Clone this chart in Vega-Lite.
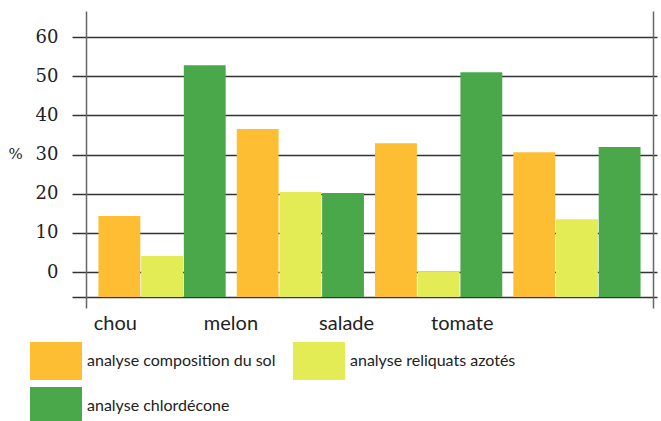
{
  "$schema": "https://vega.github.io/schema/vega-lite/v6.json",
  "width": 567,
  "height": 297,
  "autosize": {"type": "none"},
  "padding": {"left": 86, "top": 11, "right": 8, "bottom": 113},
  "background": "white",
  "config": {"view": {"stroke": null}, "font": "DejaVu Serif", "axis": {"labelFont": "DejaVu Serif", "titleFont": "DejaVu Serif"}},
  "layer": [
    {
      "data": {
        "values": [
          {"culture": "chou", "analyse": "analyse composition du sol", "pct": 14.3},
          {"culture": "chou", "analyse": "analyse reliquats azotés", "pct": 4.1},
          {"culture": "chou", "analyse": "analyse chlordécone", "pct": 52.8},
          {"culture": "melon", "analyse": "analyse composition du sol", "pct": 36.5},
          {"culture": "melon", "analyse": "analyse reliquats azotés", "pct": 20.4},
          {"culture": "melon", "analyse": "analyse chlordécone", "pct": 20.2},
          {"culture": "salade", "analyse": "analyse composition du sol", "pct": 32.9},
          {"culture": "salade", "analyse": "analyse reliquats azotés", "pct": 0},
          {"culture": "salade", "analyse": "analyse chlordécone", "pct": 51.0},
          {"culture": "tomate", "analyse": "analyse composition du sol", "pct": 30.6},
          {"culture": "tomate", "analyse": "analyse reliquats azotés", "pct": 13.5},
          {"culture": "tomate", "analyse": "analyse chlordécone", "pct": 31.9}
        ]
      },
      "mark": {"type": "bar"},
      "encoding": {
        "x": {
          "field": "culture", "type": "nominal",
          "sort": ["chou", "melon", "salade", "tomate"],
          "scale": {"paddingInner": 0.08, "paddingOuter": 0.09},
          "axis": null
        },
        "xOffset": {
          "field": "analyse", "type": "nominal",
          "sort": ["analyse composition du sol", "analyse reliquats azotés", "analyse chlordécone"],
          "scale": {"paddingInner": 0.02, "paddingOuter": 0}
        },
        "y": {
          "field": "pct", "type": "quantitative",
          "scale": {"domain": [-9.19, 66.64], "nice": false, "zero": false},
          "axis": {
            "values": [-6.4, 0, 10, 20, 30, 40, 50, 60],
            "format": "d",
            "labelExpr": "datum.value < 0 ? '' : datum.label",
            "title": "%",
            "titleAngle": 0,
            "titleX": -71,
            "titleY": 142,
            "titleAlign": "center",
            "titleBaseline": "middle",
            "titleFont": "DejaVu Serif",
            "titleFontSize": 15,
            "titleFontWeight": "normal",
            "titleColor": "#222",
            "labelFont": "DejaVu Serif",
            "labelFontSize": 18,
            "labelColor": "#222",
            "labelPadding": 14,
            "tickSize": 14,
            "tickColor": "#333",
            "tickWidth": 1.5,
            "grid": true,
            "gridColor": "#333",
            "gridWidth": 1.5,
            "gridOpacity": 1,
            "domainColor": "#666",
            "domainWidth": 1.5
          }
        },
        "y2": {"datum": -6.4},
        "color": {
          "field": "analyse", "type": "nominal",
          "scale": {
            "domain": ["analyse composition du sol", "analyse chlordécone", "analyse reliquats azotés"],
            "range": ["#FDBE34", "#4AA84B", "#E3EC55"]
          },
          "legend": {
            "orient": "none",
            "legendX": -49,
            "legendY": 331,
            "title": null,
            "columns": 2,
            "symbolType": "M-1.37,-1H1.37V1H-1.37Z",
            "symbolSize": 1444,
            "symbolStrokeWidth": 0,
            "symbolOpacity": 1,
            "labelFont": "Lato",
            "labelFontSize": 16,
            "labelColor": "#222",
            "labelOffset": 12,
            "labelLimit": 400,
            "rowPadding": 7,
            "columnPadding": 16
          }
        }
      }
    },
    {
      "data": {"values": [{"culture": "chou"}, {"culture": "melon"}, {"culture": "salade"}, {"culture": "tomate"}]},
      "mark": {"type": "text", "font": "Lato", "fontSize": 20, "baseline": "alphabetic", "dy": 22, "color": "#222"},
      "encoding": {
        "x": {
          "field": "culture", "type": "nominal",
          "sort": ["chou", "melon", "salade", "tomate"],
          "scale": {"type": "point", "padding": 0.951, "align": 0.133},
          "axis": null
        },
        "y": {
          "datum": -9.19, "type": "quantitative",
          "axis": {
            "orient": "right",
            "labels": false,
            "ticks": true,
            "tickSize": 4,
            "tickColor": "#333",
            "tickWidth": 1.5,
            "values": [-6.4, 0, 10, 20, 30, 40, 50, 60],
            "grid": false,
            "title": null,
            "domainColor": "#666",
            "domainWidth": 1.5
          }
        },
        "text": {"field": "culture"}
      }
    }
  ],
  "resolve": {"scale": {"x": "independent"}, "axis": {"y": "independent"}}
}
